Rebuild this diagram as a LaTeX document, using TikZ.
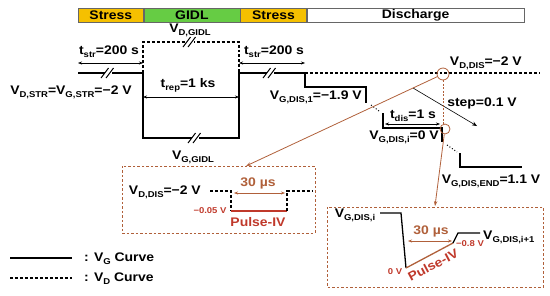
\documentclass[tikz,border=0pt]{standalone}
\usepackage{fontspec}
\setmainfont[FakeStretch=1.12]{Liberation Sans}
\usetikzlibrary{arrows.meta}
\definecolor{stry}{HTML}{F5C000}
\definecolor{gidg}{HTML}{66CC44}
\definecolor{zoomc}{HTML}{B0603A}
\definecolor{pulr}{HTML}{C0392B}
\newcommand\fsM{\fontsize{12.5}{14}\selectfont\bfseries}
\newcommand\fsS{\fontsize{8.5}{10}\selectfont\bfseries}
\newcommand\lo[1]{\raisebox{-0.45ex}{\fsS #1}}
% break mark "//" on a line
\newcommand\brk[2]{%
  \fill[white] (#1-3.5,#2-2) rectangle (#1+3.5,#2+2);
  \draw[line width=1pt] (#1-7,#2+5) -- (#1+0.5,#2-5) (#1-2,#2+5) -- (#1+5.5,#2-5);}

\begin{document}
\begin{tikzpicture}[x=1bp,y=-1bp,
  lbl/.style={font=\fsM,inner sep=0},
  sml/.style={font=\fsS,inner sep=0},
  phase/.style={draw=black!60,line width=0.6pt,minimum height=14bp,inner sep=0,font=\fsM,anchor=north west},
  vg/.style={line width=1.3pt},
  vd/.style={line width=1.3pt,dash pattern=on 3pt off 2pt},
  dim/.style={line width=0.5pt,{Stealth[length=4pt,width=3pt]}-{Stealth[length=4pt,width=3pt]}},
  zbox/.style={zoomc,line width=0.8pt,dash pattern=on 2.5pt off 2pt},
  zlink/.style={zoomc,line width=0.8pt,-{Stealth[length=5pt,width=3.5pt]}},
  ring/.style={circle,draw=zoomc,line width=0.8pt,inner sep=0,minimum size=#1}]
\useasboundingbox (0,0) rectangle (550,295);
% ============ phases ============
\node[phase,fill=stry,minimum width=65bp] (ph1) at (78,8) {Stress};
\node[phase,fill=gidg,minimum width=96bp] (ph2) at (ph1.north east) {GIDL};
\node[phase,fill=stry,minimum width=66bp] (ph3) at (ph2.north east) {Stress};
\node[phase,fill=white,minimum width=217bp] (ph4) at (ph3.north east) {Discharge};
% ============ waveforms ============
\draw[vg] (78,73) -- (143,73) -- (143,138) -- (239,138) -- (239,73) -- (305,73) -- (305,87) -- (366,87) -- (366,103);
\draw[vd] (143,73) -- (143,42) -- (239,42) -- (239,73);
\draw[vd] (305,73) -- (540,73);
\draw[vg] (383,113) -- (383,128) -- (442,128) -- (442,142);
\draw[vg] (460,153) -- (460,167) -- (522,167);
\draw[line width=1pt,dotted] (371,105) -- (379,111);
\draw[line width=1pt,dotted] (447,145) -- (457,152);
\brk{108}{73}\brk{270}{73}\brk{190}{42}\brk{195}{138}
% durations
\draw[dim] (78,63) -- (143,63);
\draw[dim] (239,63) -- (305,63);
\draw[dim] (143,97) -- (239,97);
\draw[dim] (385,124) -- (440,124);
\node[lbl] (tstra) at (109,52) {t\lo{str}=200 s};
\node[lbl] (tstrb) at (274,52) {t\lo{str}=200 s};
\node[lbl] (trep) at (188,85) {t\lo{rep}=1 ks};
\node[lbl] (tdis) at (413,116) {t\lo{dis}=1 s};
% levels
\node[lbl] (vstr) at (71,92) {V\lo{D,STR}=V\lo{G,STR}=−2 V};
\node[lbl] (vdg) at (190,30) {V\lo{D,GIDL}};
\node[lbl] (vgg) at (193,157) {V\lo{G,GIDL}};
\node[lbl,anchor=east] (vg1) at (362,97) {V\lo{G,DIS,1}=−1.9 V};
\node[lbl,anchor=east] (vdd) at (522,63) {V\lo{D,DIS}=−2 V};
\node[lbl,anchor=east] (vgi) at (439,137) {V\lo{G,DIS,i}=0 V};
\node[lbl] (vge) at (491,181) {V\lo{G,DIS,END}=1.1 V};
\node[lbl] (stp) at (482,103) {step=0.1 V};
\coordinate (stpa) at (413,88);
\coordinate (stpb) at (477,126);
\draw[line width=0.6pt,-{Stealth[length=5pt,width=4pt]}] (stpa) -- (stpb);
% zoom marks
\node[ring=12bp] (bigc) at (443,74) {};
\node[ring=10bp] (smc) at (445,129) {};
\draw[zoomc,line width=0.8pt,dash pattern=on 2pt off 1.5pt] (bigc.south) -- (bigc.south |- smc.north);
\coordinate (lbox) at (246,166);
\coordinate (rbox) at (435,206);
\draw[zlink] (bigc.205) -- (lbox);
\draw[zlink] (smc.262) -- (rbox);
% ============ drain pulse ============
\draw[zbox] (122,166) rectangle (315,233);
\node[lbl,anchor=east] (vdp) at (201,192) {V\lo{D,DIS}=−2 V};
\draw[vd,line width=1.1pt] (210,191) -- (231,191) -- (231,211);
\draw[pulr,line width=1.1pt] (231,211) -- (287,211);
\draw[vd,line width=1.1pt] (287,211) -- (287,191) -- (312,191);
\draw[dim,zoomc] (234,193) -- (285,193);
\node[lbl,text=zoomc] (tpa) at (258,183) {30 µs};
\node[sml,text=pulr] (dva) at (210,211) {−0.05 V};
\node[lbl,text=pulr] (pia) at (258,222) {Pulse-IV};
% ============ gate pulse ============
\draw[zbox] (327,207) rectangle (543,287);
\draw[vg] (380,213) -- (401,213) -- (406,268);
\draw[zoomc,line width=1.3pt] (406,268) -- (453,243);
\draw[vg] (453,243) -- (458,233) -- (480,233);
\draw[dim,zoomc] (408,241) -- (452,241);
\node[lbl] (vgp) at (355,215) {V\lo{G,DIS,i}};
\node[lbl,text=zoomc] (tpb) at (431,231) {30 µs};
\node[sml,text=pulr] (dvb) at (470,244) {−0.8 V};
\node[lbl,anchor=west] (vgq) at (483,237) {V\lo{G,DIS,i+1}};
\node[sml,text=pulr] (zv) at (395,272) {0 V};
\node[lbl,text=pulr,rotate=28] (pib) at (433,265) {Pulse-IV};
% ============ legend ============
\draw[vg] (10,258) -- (72,258);
\draw[vd] (10,278) -- (72,278);
\node[lbl,anchor=west] (lga) at (84,259) {: V\lo{G} Curve};
\node[lbl,anchor=west] (lgb) at (84,279) {: V\lo{D} Curve};
\end{tikzpicture}
\end{document}
